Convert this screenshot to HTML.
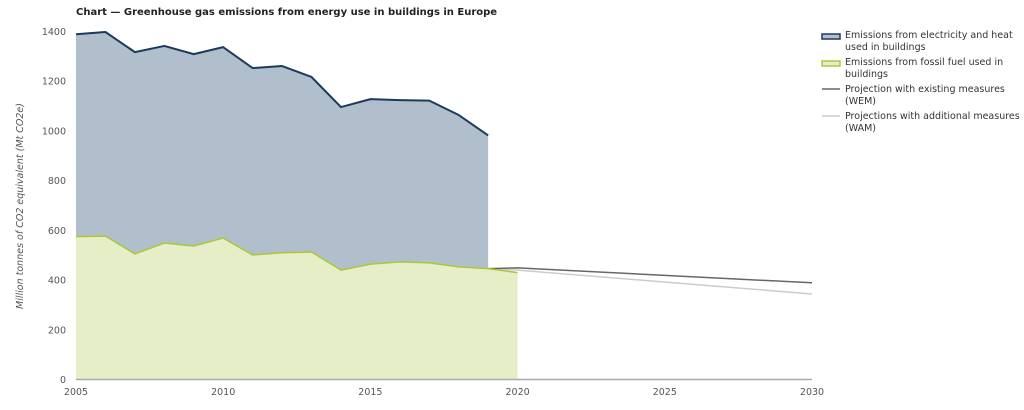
<!DOCTYPE html>
<html><head><meta charset="utf-8"><style>
body{margin:0;background:#fff;font-family:"Liberation Sans","DejaVu Sans",sans-serif;}
svg text{font-family:"DejaVu Sans","Liberation Sans",sans-serif;}
</style></head><body>
<svg id="chart" width="1024" height="405" xmlns="http://www.w3.org/2000/svg">
<text x="76" y="15" font-size="10" font-weight="bold" fill="#222">Chart — Greenhouse gas emissions from energy use in buildings in Europe</text>
<text transform="translate(23,206) rotate(-90)" text-anchor="middle" font-size="9.5" font-style="italic" fill="#555">Million tonnes of CO2 equivalent (Mt CO2e)</text>
<g id="grid"></g><g id="marks"></g><g id="axes"></g>
<g font-size="9.5" fill="#333">
<g><rect x="822" y="34" width="18" height="5" fill="#b1bfcc" stroke="#1c3a5e" stroke-width="1.5"/><text x="845" y="38">Emissions from electricity and heat</text><text x="845" y="50">used in buildings</text></g>
<g><rect x="822" y="61" width="18" height="5" fill="#e6eec7" stroke="#a9c93a" stroke-width="1.5"/><text x="845" y="65">Emissions from fossil fuel used in</text><text x="845" y="77">buildings</text></g>
<g><line x1="822" y1="89" x2="840" y2="89" stroke="#666" stroke-width="1.5"/><text x="845" y="92">Projection with existing measures</text><text x="845" y="104">(WEM)</text></g>
<g><line x1="822" y1="116" x2="840" y2="116" stroke="#ccc" stroke-width="1.5"/><text x="845" y="119">Projections with additional measures</text><text x="845" y="131">(WAM)</text></g>
</g>
</svg>
<script>
const years=[2005,2006,2007,2008,2009,2010,2011,2012,2013,2014,2015,2016,2017,2018,2019];
const totalEmissions=[1389,1398,1317,1342,1309,1337,1253,1261,1217,1096,1128,1124,1122,1064,982];
const fossilYears=[2005,2006,2007,2008,2009,2010,2011,2012,2013,2014,2015,2016,2017,2018,2019,2020];
const fossilEmissions=[575,577,505,549,537,569,501,510,513,440,464,473,469,453,446,430];
const wemYears=[2019,2020,2030];
const wemValues=[446,449,389];
const wamYears=[2019,2020,2030];
const wamValues=[446,440,344];
const yTicks=[0,200,400,600,800,1000,1200,1400];
const xTicks=[2005,2010,2015,2020,2025,2030];
const NS="http://www.w3.org/2000/svg";
const x=v=>76+(v-2005)*(812-76)/25;
const y=v=>379.5-v*348/1400;
function mk(tag,attrs,parent){const e=document.createElementNS(NS,tag);for(const k in attrs)e.setAttribute(k,attrs[k]);document.getElementById(parent).appendChild(e);return e;}
// areas
let p="M"+x(years[0])+","+y(0);
years.forEach((yr,i)=>p+="L"+x(yr)+","+y(totalEmissions[i]));
p+="L"+x(years[years.length-1])+","+y(0)+"Z";
let a=mk("path",{d:p,fill:"#b1bfcc"},"marks");


let p2="M"+x(fossilYears[0])+","+y(0);
fossilYears.forEach((yr,i)=>p2+="L"+x(yr)+","+y(fossilEmissions[i]));
p2+="L"+x(fossilYears[fossilYears.length-1])+","+y(0)+"Z";
let a2=mk("path",{d:p2,fill:"#e6eec7"},"marks");


function line(xs,vs,stroke,w){return mk("polyline",{points:xs.map((yr,i)=>x(yr)+","+y(vs[i])).join(" "),fill:"none",stroke:stroke,"stroke-width":w,"stroke-linejoin":"round"},"marks");}
let l3=line(wamYears,wamValues,"#cccccc",1.5);


let l4=line(wemYears,wemValues,"#666666",1.5);


let l1=line(years,totalEmissions,"#1c3a5e",2);


let l2=line(fossilYears,fossilEmissions,"#a9c93a",1.5);


// axes
let ax=mk("line",{x1:76,x2:812,y1:379.5,y2:379.5,stroke:"#aaa","stroke-width":1.5},"axes");


yTicks.forEach(t=>{const e=mk("text",{x:66,y:y(t)+3.5,"text-anchor":"end","font-size":"9.5",fill:"#555"},"axes");e.textContent=t;

});
xTicks.forEach(t=>{const e=mk("text",{x:x(t),y:395,"text-anchor":"middle","font-size":"9.5",fill:"#555"},"axes");e.textContent=t;

});
</script>
</body></html>
